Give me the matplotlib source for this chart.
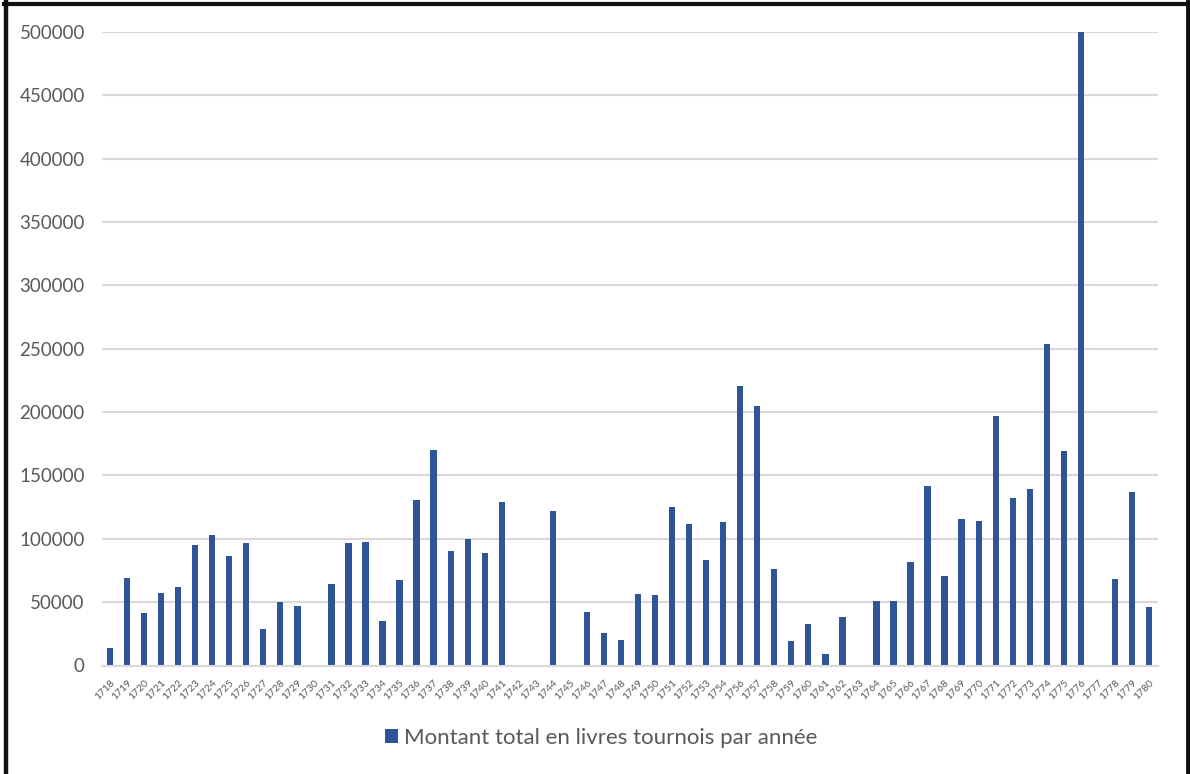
import matplotlib
matplotlib.use("Agg")
import matplotlib.pyplot as plt

years = [str(y) for y in range(1718, 1781) if y != 1755]
values = [
    14200, 69000, 41300, 57100, 61600, 94800, 103200, 86400, 96400, 29200,
    50000, 46600, 0, 64000, 96600, 97400, 35000, 67400, 130300, 170400,
    90000, 99800, 88500, 129300, 0, 0, 121600, 0, 41900, 25300,
    20000, 56300, 55300, 124800, 111600, 83200, 113000, 220900, 205100, 76100,
    19000, 32400, 9200, 38200, 0, 50800, 50600, 81400, 141900, 70300,
    115300, 114000, 197200, 132400, 139300, 253800, 169000, 500000, 0, 67900,
    136700, 45800,
]
yticks = [0, 50000, 100000, 150000, 200000, 250000, 300000, 350000, 400000, 450000, 500000]
series_label = "Montant total en livres tournois par année"

plt.rcParams['font.family'] = ['Lato', 'DejaVu Sans']
BLUE = '#2F5597'
GRID = '#D9D9D9'
TXT = '#595959'

fig = plt.figure(figsize=(11.90, 7.74), dpi=100)
ax = fig.add_axes([101.5 / 1190, 1 - 665.5 / 774, 1056 / 1190, 633.5 / 774])

x = list(range(len(years)))
ax.bar(x, values, width=0.37, color=BLUE, label=series_label, zorder=3)

ax.set_xlim(-0.5, len(years) - 0.5)
ax.set_ylim(0, 500000)
ax.set_yticks(yticks)
ax.set_yticklabels([str(v) for v in yticks], fontsize=13.5, color=TXT)
ax.set_xticks(x)
ax.set_xticklabels(years, rotation=45, ha='right', rotation_mode='anchor',
                   fontsize=7.5, color=TXT)
ax.tick_params(axis='both', length=0)
ax.tick_params(axis='y', pad=12)
ax.tick_params(axis='x', pad=9)
ax.yaxis.grid(True, color=GRID, linewidth=1.5, zorder=0)
for s in ['top', 'right', 'left']:
    ax.spines[s].set_visible(False)
ax.spines['bottom'].set_color(GRID)
ax.spines['bottom'].set_linewidth(1.5)
ax.spines['bottom'].set_zorder(4)

leg = fig.legend(loc='center', bbox_to_anchor=(601 / 1190, 1 - 738 / 774), frameon=False,
                 fontsize=16, handlelength=0.6, handleheight=0.6, handletextpad=0.25)
for t in leg.get_texts():
    t.set_color(TXT)

# outer black frame (no bottom edge visible)
fig.add_artist(plt.Line2D([6 / 1190, 6 / 1190], [0, 1 - 2 / 774], color='#111111', lw=3.2,
                          transform=fig.transFigure))
fig.add_artist(plt.Line2D([4 / 1190, 1189 / 1190], [1 - 3.5 / 774, 1 - 3.5 / 774], color='#111111',
                          lw=3.0, transform=fig.transFigure))
fig.add_artist(plt.Line2D([1187.5 / 1190, 1187.5 / 1190], [0, 1 - 2 / 774], color='#111111', lw=3.5,
                          transform=fig.transFigure))

fig.savefig('out.png', dpi=100, facecolor='white')
